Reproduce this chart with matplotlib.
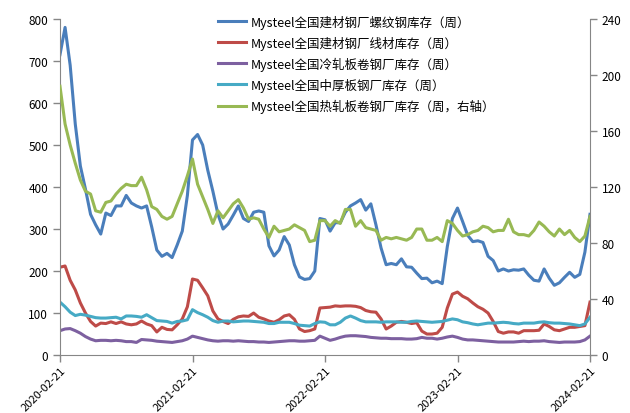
import pandas as pd
import matplotlib.pyplot as plt
import matplotlib.dates as mdates

plt.rcParams['font.family'] = ['Noto Sans CJK SC', 'DejaVu Sans']

# biweekly readings, 2020-02-21 .. 2024-02-21
dates = pd.date_range('2020-02-21', '2024-02-21', periods=105)

rebar = [715, 780, 690, 550, 450, 395, 335, 310, 288, 338, 332, 355, 355, 380, 362, 355, 350, 355,
         305, 250, 235, 242, 232, 262, 295, 380, 512, 525, 500, 440, 390, 335, 300, 312, 333, 355,
         325, 318, 340, 343, 340, 260, 236, 250, 282, 262, 215, 186, 180, 182, 200, 325, 322, 295,
         315, 315, 340, 355, 362, 370, 345, 360, 310, 255, 215, 218, 215, 229, 210, 209, 195, 182,
         183, 172, 176, 170, 258, 325, 350, 318, 285, 270, 272, 268, 235, 225, 200, 205, 200, 203,
         202, 205, 190, 178, 176, 205, 183, 166, 172, 185, 197, 185, 192, 245, 335]

wire_rod = [209, 212, 178, 155, 124, 100, 80, 69, 76, 75, 79, 75, 79, 74, 72, 74, 81, 74, 70, 55,
            66, 61, 60, 72, 86, 115, 181, 178, 160, 141, 105, 86, 80, 75, 85, 91, 93, 92, 100, 90,
            86, 81, 78, 84, 93, 96, 85, 62, 56, 58, 62, 112, 113, 114, 117, 116, 117, 117, 116, 113,
            106, 103, 102, 86, 62, 69, 78, 80, 78, 75, 77, 57, 50, 50, 52, 66, 112, 145, 150, 140,
            134, 124, 115, 109, 100, 80, 56, 52, 55, 55, 52, 58, 58, 58, 59, 74, 68, 60, 58, 62,
            66, 66, 68, 70, 126]

cold_rolled = [58, 62, 63, 58, 52, 44, 38, 34, 35, 35, 34, 35, 34, 32, 32, 30, 37, 36, 35, 33,
               32, 31, 30, 32, 34, 38, 45, 42, 39, 36, 34, 33, 34, 34, 33, 34, 33, 32, 32, 31,
               31, 30, 31, 32, 33, 34, 34, 33, 33, 34, 35, 45, 40, 35, 38, 42, 45, 46, 46, 45,
               44, 42, 41, 40, 40, 39, 39, 39, 38, 38, 39, 42, 40, 40, 38, 40, 43, 45, 42, 38,
               36, 36, 35, 34, 33, 32, 31, 31, 31, 31, 32, 33, 32, 33, 33, 34, 32, 31, 30, 31,
               31, 31, 32, 36, 45]

plate = [126, 115, 102, 94, 97, 95, 92, 89, 88, 88, 89, 90, 86, 93, 93, 92, 90, 96, 89, 82,
         81, 80, 76, 80, 81, 84, 108, 101, 96, 90, 82, 78, 81, 81, 79, 80, 81, 81, 80, 79,
         78, 75, 75, 78, 78, 78, 75, 71, 70, 69, 75, 79, 78, 72, 72, 78, 88, 93, 88, 82,
         79, 79, 79, 78, 79, 79, 79, 78, 78, 80, 81, 80, 79, 78, 79, 80, 83, 86, 84, 79,
         77, 74, 72, 74, 76, 76, 77, 78, 77, 75, 74, 76, 76, 76, 78, 79, 77, 76, 76, 75,
         74, 72, 70, 74, 90]

hot_rolled = [192, 165, 150, 137, 125, 117, 115, 103, 102, 109, 110, 115, 119, 122, 121, 121, 127, 118,
              106, 104, 99, 97, 99, 108, 117, 128, 140, 122, 113, 104, 94, 103, 98, 103, 108, 111,
              105, 97, 98, 97, 90, 84, 92, 88, 89, 90, 93, 91, 89, 81, 82, 96, 96, 92,
              96, 94, 104, 104, 92, 96, 91, 90, 89, 82, 84, 83, 84, 83, 82, 84, 90, 90,
              82, 82, 84, 81, 96, 94, 89, 85, 86, 88, 89, 92, 91, 88, 89, 89, 97, 88,
              86, 86, 85, 89, 95, 92, 88, 85, 90, 86, 89, 84, 81, 85, 99]

labels = ['Mysteel全国建材钢厂螺纹钢库存（周）',
          'Mysteel全国建材钢厂线材库存（周）',
          'Mysteel全国冷轧板卷钢厂库存（周）',
          'Mysteel全国中厚板钢厂库存（周）',
          'Mysteel全国热轧板卷钢厂库存（周，右轴）']
colors = ['#4A7EBB', '#BE4B48', '#7D60A0', '#46AAC5', '#98B954']
xticks = pd.to_datetime(['2020-02-21', '2021-02-21', '2022-02-21', '2023-02-21', '2024-02-21'])

fig = plt.figure(figsize=(6.3, 4.14), dpi=100)
ax = fig.add_axes([0.0952, 0.140, 0.8413, 0.8117])
ax2 = ax.twinx()

lines = []
for series, lab, col in zip([rebar, wire_rod, cold_rolled, plate], labels[:4], colors[:4]):
    l, = ax.plot(dates, series, color=col, lw=2.2, label=lab)
    lines.append(l)
l, = ax2.plot(dates, hot_rolled, color=colors[4], lw=2.2, label=labels[4])
lines.append(l)

ax.set_ylim(0, 800)
ax.set_yticks(range(0, 801, 100))
ax2.set_ylim(0, 240)
ax2.set_yticks(range(0, 241, 40))
ax.set_xlim(xticks[0], xticks[-1])
ax.set_xticks(xticks)
ax.set_xticklabels([d.strftime('%Y-%m-%d') for d in xticks], rotation=45,
                   ha='right', va='top', rotation_mode='anchor')

gray = '#868686'
for a in (ax, ax2):
    a.spines['top'].set_visible(False)
    for s in ('left', 'right', 'bottom'):
        a.spines[s].set_color(gray)
    a.tick_params(colors=gray, labelcolor='black', labelsize=8.5, length=5, width=1)
ax.tick_params(axis='x', labelsize=8, pad=2)
ax.spines['right'].set_visible(False)
ax2.spines['left'].set_visible(False)
ax2.spines['bottom'].set_visible(False)

ax2.legend(lines, labels, loc='upper left', bbox_to_anchor=(0.289, 1.028), frameon=False,
           fontsize=9, handlelength=2.2, handletextpad=0.4, labelspacing=0.56,
           borderaxespad=0)

fig.savefig('out.png', dpi=100)
